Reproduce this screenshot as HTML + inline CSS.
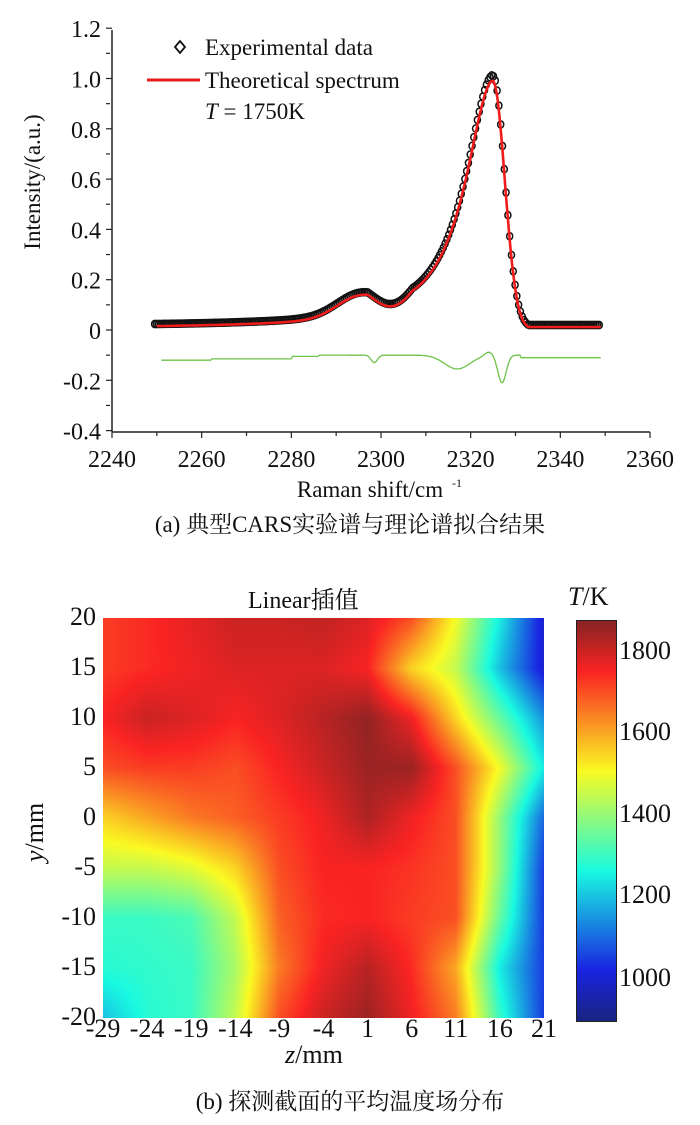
<!DOCTYPE html>
<html><head><meta charset="utf-8"><style>
body{margin:0;background:#fff;width:700px;height:1125px;overflow:hidden;position:relative;font-family:"Liberation Serif","Noto Serif CJK SC",serif;color:#111}
.t{position:absolute;white-space:nowrap}
</style></head><body>
<svg id="top" width="700" height="540" style="position:absolute;left:0;top:0" font-family="Liberation Serif, serif" font-size="24" fill="#111"></svg>
<div class="t" style="left:0;top:506px;width:700px;text-align:center;font-size:23px;font-family:'Liberation Serif','Noto Serif CJK SC',serif">(a) 典型CARS实验谱与理论谱拟合结果</div>

<div class="t" style="left:248px;top:580px;font-size:24px;font-family:'Liberation Serif','Noto Serif CJK SC',serif">Linear插值</div>
<canvas id="hm" width="441" height="400" style="position:absolute;left:103px;top:618px"></canvas>
<canvas id="cb" width="39" height="400" style="position:absolute;left:576px;top:620px;border:1px solid #222;box-sizing:border-box"></canvas>
<div class="t" style="left:568px;top:582px;font-size:26px"><i>T</i>/K</div>
<div id="labs"></div>
<div class="t" style="left:285px;top:1040px;font-size:26px"><i>z</i>/mm</div>
<div class="t" style="left:20px;top:862px;font-size:26px;transform:rotate(-90deg);transform-origin:left top"><i>y</i>/mm</div>
<div class="t" style="left:0;top:1083px;width:700px;text-align:center;font-size:23px;font-family:'Liberation Serif','Noto Serif CJK SC',serif">(b) 探测截面的平均温度场分布</div>
<script>
var NS="http://www.w3.org/2000/svg",svg=document.getElementById('top');
function el(n,a,txt){var e=document.createElementNS(NS,n);for(var k in a)e.setAttribute(k,a[k]);if(txt)e.textContent=txt;svg.appendChild(e);return e;}
function X(v){return 112+(v-2240)*(538/120);}
function Y(v){return 330-v*251.5;}
el('line',{x1:112,y1:30,x2:112,y2:432,stroke:'#222','stroke-width':1.5});
el('line',{x1:112,y1:432,x2:650,y2:432,stroke:'#222','stroke-width':1.5});
for(var i=0;i<=16;i++){var v=-0.4+i*0.1,y=Y(v);el('line',{x1:106,y1:y,x2:i%2==0?112:110,y2:y,stroke:'#222','stroke-width':1.2});
 if(i%2==0){var s=(Math.abs(v)<1e-9)?'0':v.toFixed(1);el('text',{x:101,y:y+9,'text-anchor':'end'},s);}}
for(var i=0;i<=12;i++){var v=2240+i*10,x=X(v);el('line',{x1:x,y1:432,x2:x,y2:i%2==0?438:436,stroke:'#222','stroke-width':1.2});
 if(i%2==0)el('text',{x:x,y:467,'text-anchor':'middle'},String(v));}
el('text',{x:0,y:0,'text-anchor':'middle','font-size':23,transform:'translate(40,182) rotate(-90)'},'Intensity/(a.u.)');
el('text',{x:370,y:497,'text-anchor':'middle','font-size':23},'Raman shift/cm');
el('text',{x:452,y:487,'font-size':12},'-1');
el('path',{d:'M175 47 l5 -6 l5 6 l-5 6z',fill:'none',stroke:'#111','stroke-width':1.8});
el('text',{x:205,y:55,'font-size':23},'Experimental data');
el('line',{x1:147,y1:80,x2:200,y2:80,stroke:'#e81e1e','stroke-width':3});
el('text',{x:205,y:88,'font-size':23},'Theoretical spectrum');
var tt=el('text',{x:205,y:119,'font-size':23});tt.innerHTML='<tspan font-style="italic">T</tspan> = 1750K';
function f(x){var p;if(x<2325){var d=(2325-x)/7.5;p=1/(1+d*d);}else{var d=(x-2325)/2.6;p=Math.exp(-d*d/2);}
 var b=0.006+0.075*Math.exp(-Math.pow((x-2295)/5,2)/2);if(x>2297&&x<2307)b-=0.035*Math.sin((x-2297)/10*Math.PI);
 if(x>2325)b*=0.3;return Math.max(p+b,0.012);}
for(var x=2249.5;x<=2349;x+=0.4){var v=f(x)+0.008;el('ellipse',{cx:X(x),cy:Y(v),rx:3,ry:3.6,fill:'none',stroke:'#111','stroke-width':1.5});}
var d='';for(var x=2250;x<=2349;x+=0.25)d+=(x>2250?'L':'M')+X(x).toFixed(1)+' '+Y(f(x)*0.985).toFixed(1);
el('path',{d:d,fill:'none',stroke:'#ee1c1c','stroke-width':2.6});
function r(x){var v=-0.12;if(x>2262)v=-0.115;if(x>2280)v=-0.105;if(x>2286)v=-0.1;
 v+=-0.03*Math.exp(-Math.pow((x-2298.5)/1,2));v+=-0.055*Math.exp(-Math.pow((x-2317)/4,2));
 v+=0.015*Math.exp(-Math.pow((x-2324)/1.2,2));v+=-0.11*Math.exp(-Math.pow((x-2327)/1.3,2));if(x>2331)v=-0.11;return v;}
d='';for(var x=2251;x<=2349;x+=0.25)d+=(x>2251?'L':'M')+X(x).toFixed(1)+' '+Y(r(x)).toFixed(1);
el('path',{d:d,fill:'none',stroke:'#6cc24a','stroke-width':1.3});

function jet(t){t=Math.max(0,Math.min(1,t));function c(a){return Math.max(0,Math.min(1,1.5-Math.abs(4*t-a)));}
 return [c(3)*225+25,c(2)*215+35,c(1)*190+35];}
var G=[[1720,1740,1770,1800,1800,1810,1780,1700,1500,1250,1000],
[1720,1740,1760,1780,1780,1780,1750,1550,1450,1200,1000],
[1750,1800,1780,1750,1780,1820,1860,1760,1550,1350,1150],
[1700,1720,1720,1700,1750,1800,1850,1850,1700,1500,1250],
[1550,1600,1650,1680,1720,1760,1830,1760,1700,1400,1100],
[1450,1450,1480,1550,1700,1750,1750,1730,1700,1400,1050],
[1300,1300,1320,1450,1680,1740,1750,1720,1700,1350,1050],
[1280,1290,1300,1420,1650,1760,1820,1740,1600,1250,1050],
[1200,1280,1300,1450,1700,1800,1850,1760,1650,1300,1050]];
var lo=900,hi=1870;
var cv=document.getElementById('hm'),cx=cv.getContext('2d'),W=441,H=400,img=cx.createImageData(W,H);
for(var j=0;j<H;j++)for(var i=0;i<W;i++){var gx=i/(W-1)*10,gy=j/(H-1)*8,x0=Math.min(9,Math.floor(gx)),y0=Math.min(7,Math.floor(gy)),fx=gx-x0,fy=gy-y0;
 var v=G[y0][x0]*(1-fx)*(1-fy)+G[y0][x0+1]*fx*(1-fy)+G[y0+1][x0]*(1-fx)*fy+G[y0+1][x0+1]*fx*fy;
 var c=jet((v-lo)/(hi-lo)),k=(j*W+i)*4;img.data[k]=c[0];img.data[k+1]=c[1];img.data[k+2]=c[2];img.data[k+3]=255;}
cx.putImageData(img,0,0);
var cb=document.getElementById('cb'),cc=cb.getContext('2d');
for(var j=0;j<400;j++){var c=jet(1-j/399);cc.fillStyle='rgb('+c.map(Math.round).join(',')+')';cc.fillRect(0,j,39,1);}
var L=document.getElementById('labs'),h='';
[20,15,10,5,0,-5,-10,-15,-20].forEach(function(v,i){var y=618+i*50;h+='<div class="t" style="left:0;width:96px;text-align:right;top:'+(y-16)+'px;font-size:26px">'+v+'</div>';});
[-29,-24,-19,-14,-9,-4,1,6,11,16,21].forEach(function(v,i){var x=103+i*44.1;h+='<div class="t" style="left:'+(x-30)+'px;width:60px;text-align:center;top:1014px;font-size:26px">'+v+'</div>';});
[[1800,652],[1600,733],[1400,815],[1200,896],[1000,979]].forEach(function(a){h+='<div class="t" style="left:619px;top:'+(a[1]-16)+'px;font-size:26px">'+a[0]+'</div>';});
L.innerHTML=h;
</script>
</body></html>
